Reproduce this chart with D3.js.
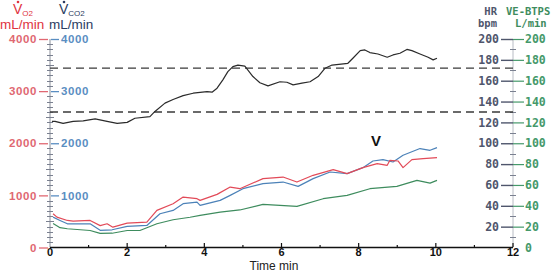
<!DOCTYPE html>
<meta charset='utf-8'>
<title>CPET trend</title>
<style>
body {
  margin: 0;
  background-color: #fff;
}
text {
  font-family: "Liberation Sans", Arial, sans-serif;
}
.mono {
  font-family: "DejaVu Sans Mono", monospace;
  font-weight: bold;
}
</style>
<svg width="556" height="272"></svg>
<script src="https://d3js.org/d3.v7.min.js"></script>
<script>

// time in minutes for each trace
var hrTime = [0.05, 0.13, 0.34, 0.6, 0.86, 1.17, 1.48, 1.74, 2.0, 2.2, 2.59, 2.72, 2.98, 3.19, 3.45, 3.71, 4.07, 4.2, 4.33, 4.48, 4.61, 4.74, 4.87, 5.05, 5.26, 5.44, 5.65, 5.96, 6.14, 6.3, 6.53, 6.74, 6.95, 7.13, 7.31, 7.72, 7.85, 8.04, 8.16, 8.29, 8.5, 8.74, 8.89, 9.07, 9.25, 9.38, 9.59, 9.8, 9.93, 10.03];
var hr = [121, 121, 119, 121, 121.5, 123.4, 121, 119, 120, 124, 125.6, 130.5, 138.5, 142, 145.7, 148, 149.6, 149, 152.8, 160.8, 168.7, 173.5, 175, 174, 164, 158, 155, 159, 158.5, 156, 157.6, 159, 164, 172, 175, 176.7, 181.5, 188.8, 189.5, 187, 185.6, 182.5, 184.7, 186.3, 190, 188.8, 185.6, 182.5, 180, 181.5];

var vo2Time = [0.08, 0.18, 0.45, 0.6, 1.04, 1.3, 1.48, 1.63, 2.0, 2.51, 2.77, 3.19, 3.45, 3.81, 3.89, 4.33, 4.67, 4.92, 5.52, 6.04, 6.4, 6.82, 7.34, 7.7, 8.11, 8.48, 8.74, 8.81, 9.02, 9.15, 9.38, 9.67, 10.03];
var vo2 = [648, 583, 519, 506, 519, 420, 456, 390, 467, 487, 712, 840, 967, 936, 904, 1019, 1160, 1128, 1321, 1352, 1256, 1385, 1494, 1417, 1532, 1609, 1577, 1673, 1660, 1532, 1686, 1705, 1725];

var vco2Time = [0.08, 0.26, 0.45, 1.04, 1.3, 1.61, 2.0, 2.51, 2.85, 3.19, 3.45, 3.81, 3.89, 4.41, 4.67, 5.0, 5.52, 6.04, 6.43, 6.82, 7.26, 7.7, 8.11, 8.37, 8.63, 8.89, 9.15, 9.59, 9.85, 10.03];
var vco2 = [583, 519, 455, 456, 330, 340, 404, 423, 648, 712, 840, 871, 808, 904, 1000, 1128, 1225, 1256, 1173, 1321, 1448, 1417, 1532, 1660, 1686, 1640, 1769, 1898, 1865, 1917];

var veTime = [0.08, 0.26, 0.45, 1.04, 1.3, 1.61, 2.0, 2.33, 2.77, 3.19, 3.63, 3.89, 4.41, 4.92, 5.52, 6.4, 7.08, 7.7, 8.29, 8.99, 9.51, 9.85, 10.03];
var ve = [23, 19, 18, 16.3, 13.5, 13.7, 16.3, 16.3, 22.8, 26.6, 29, 30.8, 34, 36, 41.3, 39.4, 46.8, 50, 56.4, 58.7, 64.4, 61.8, 64.4];

// HR target band (dashed lines)
var hrLimits = [130, 172];

var xTicks = [0, 2, 4, 6, 8, 10, 12];
var vo2Ticks = [0, 1000, 2000, 3000, 4000];
var vco2Ticks = [1000, 2000, 3000, 4000];
var hrTicks = [20, 40, 60, 80, 100, 120, 140, 160, 180, 200];
var veTicks = [0, 20, 40, 60, 80, 100, 120, 140, 160, 180, 200];
var markerTime = 8.45;

var svg = d3.select("svg");

var x = d3.scaleLinear().domain([0, 12]).range([50, 513]);
var yL = d3.scaleLinear().domain([0, 4000]).range([247.5, 39]);
var yR = d3.scaleLinear().domain([0, 200]).range([247.5, 39]);

var red = "#e24a58", redText = "#e06872", blue = "#4c82b8", blueText = "#5a8ec2",
    navy = "#2c3d62", green = "#3e8c5e", greenText = "#45996a", slate = "#4f566c";

// left axis: vertical line and minor ticks every 100
svg.append("line")
    .attr("x1", 50).attr("x2", 50)
    .attr("y1", yL(4000)).attr("y2", yL(0))
    .attr("stroke", "#8a8f9a").attr("stroke-width", 1);

svg.selectAll("line.lminor")
    .data(d3.range(100, 4000, 100).filter(function(d) { return d % 1000; }))
  .enter().append("line")
    .attr("class", "lminor")
    .attr("x1", function(d) { return d % 500 ? 47 : 46; })
    .attr("x2", function(d) { return d % 500 ? 53 : 54; })
    .attr("y1", function(d) { return Math.round(yL(d)) + 0.5; })
    .attr("y2", function(d) { return Math.round(yL(d)) + 0.5; })
    .attr("stroke", "#7a8090").attr("stroke-width", 1);

// VO2 labels (left, red)
var gl = svg.append("g").attr("transform", "translate(48,0)")
    .call(d3.axisLeft(yL).tickValues(vo2Ticks).tickSize(9).tickPadding(2).tickFormat(d3.format("d")));
gl.select(".domain").remove();
gl.selectAll("line").attr("stroke", redText).attr("stroke-width", 1.3);
gl.selectAll("text").attr("fill", redText).attr("font-size", 11.5).attr("font-weight", "bold")
    .attr("font-family", "Liberation Sans, Arial, sans-serif").attr("letter-spacing", 0.6);

// VCO2 labels (left, blue)
var gb = svg.append("g").attr("transform", "translate(51,0)")
    .call(d3.axisRight(yL).tickValues(vco2Ticks).tickSize(8).tickPadding(2).tickFormat(d3.format("d")));
gb.select(".domain").remove();
gb.selectAll("line").attr("stroke", blueText).attr("stroke-width", 1.3);
gb.selectAll("text").attr("fill", blueText).attr("font-size", 11.5).attr("font-weight", "bold")
    .attr("font-family", "Liberation Sans, Arial, sans-serif").attr("letter-spacing", 0.6);

// right axis
svg.append("line")
    .attr("x1", 513).attr("x2", 513)
    .attr("y1", yR(200)).attr("y2", yR(0))
    .attr("stroke", "#b8bcc4").attr("stroke-width", 1);

svg.selectAll("line.rminor")
    .data(d3.range(10, 200, 20))
  .enter().append("line")
    .attr("class", "rminor")
    .attr("x1", 510).attr("x2", 516)
    .attr("y1", function(d) { return Math.round(yR(d)) + 0.5; })
    .attr("y2", function(d) { return Math.round(yR(d)) + 0.5; })
    .attr("stroke", "#7a8090").attr("stroke-width", 1);

var gh = svg.append("g").attr("transform", "translate(513,0)")
    .call(d3.axisLeft(yR).tickValues(hrTicks).tickSize(12).tickPadding(2));
gh.select(".domain").remove();
gh.selectAll("line").attr("stroke", slate).attr("stroke-width", 1.4);
gh.selectAll("text").attr("class", "mono").attr("fill", slate).attr("font-size", 11.5);

var gv = svg.append("g").attr("transform", "translate(513,0)")
    .call(d3.axisRight(yR).tickValues(veTicks).tickSize(11).tickPadding(1));
gv.select(".domain").remove();
gv.selectAll("line").attr("stroke", greenText).attr("stroke-width", 1.2)
    .attr("stroke-opacity", function(d) { return d === 0 ? 0 : 1; });
gv.selectAll("text").attr("class", "mono").attr("fill", greenText).attr("font-size", 11.5);

// x axis
svg.append("line")
    .attr("x1", x(0)).attr("x2", x(12))
    .attr("y1", 247.5).attr("y2", 247.5)
    .attr("stroke", "#111").attr("stroke-width", 1.6);

svg.selectAll("line.xtick")
    .data(d3.range(1, 13))
  .enter().append("line")
    .attr("class", "xtick")
    .attr("x1", function(d) { return x(d); })
    .attr("x2", function(d) { return x(d); })
    .attr("y1", 247)
    .attr("y2", function(d) { return d % 2 ? 245 : 243; })
    .attr("stroke", "#111").attr("stroke-width", 1.2);

svg.selectAll("text.xlabel")
    .data(xTicks)
  .enter().append("text")
    .attr("class", "xlabel")
    .attr("x", function(d) { return x(d); })
    .attr("y", 256)
    .attr("text-anchor", "middle")
    .attr("font-size", 11)
    .attr("font-weight", "bold")
    .attr("fill", "#111")
    .text(function(d) { return d; });

svg.append("text")
    .attr("x", 274).attr("y", 269.5)
    .attr("text-anchor", "middle")
    .attr("font-size", 12)
    .attr("fill", "#222")
    .text("Time min");

// dashed HR limits
svg.selectAll("line.limit")
    .data(hrLimits)
  .enter().append("line")
    .attr("class", "limit")
    .attr("x1", 50).attr("x2", 513)
    .attr("y1", function(d) { return yR(d); })
    .attr("y2", function(d) { return yR(d); })
    .attr("stroke", "#3a3a3a").attr("stroke-width", 1.3)
    .attr("stroke-dasharray", "8,5");

// traces
function trace(times, values, y, color) {
  var pts = times.map(function(t, i) { return [t, values[i]]; });
  svg.append("path")
      .datum(pts)
      .attr("fill", "none")
      .attr("stroke", color)
      .attr("stroke-width", 1.2)
      .attr("stroke-linejoin", "round")
      .attr("d", d3.line().x(function(d) { return x(d[0]); }).y(function(d) { return y(d[1]); }));
}
trace(veTime, ve, yR, green);
trace(vco2Time, vco2, yL, blue);
trace(vo2Time, vo2, yL, red);
trace(hrTime, hr, yR, "#2b2b2b");

// threshold marker
svg.append("text")
    .attr("x", x(markerTime)).attr("y", 146)
    .attr("text-anchor", "middle")
    .attr("font-size", 15)
    .attr("font-weight", "bold")
    .attr("font-family", "Liberation Sans Narrow, Liberation Sans, sans-serif")
    .attr("fill", "#111")
    .text("V");

// headers, left
function vdot(x0, label, sub, color) {
  var t = svg.append("text").attr("x", x0).attr("y", 14).attr("fill", color).attr("font-size", 14);
  t.append("tspan").text(label);
  t.append("tspan").attr("dy", 2).attr("font-size", 8).text(sub);
  svg.append("circle").attr("cx", x0 + 5).attr("cy", 2).attr("r", 1.3).attr("fill", color);
}
vdot(13, "V", "O2", "#e0343f");
vdot(59, "V", "CO2", navy);

svg.append("text").attr("x", 0).attr("y", 29).attr("font-size", 13.5).attr("fill", "#e0343f").text("mL/min");
svg.append("text").attr("x", 49).attr("y", 29).attr("font-size", 13.5).attr("fill", navy).text("mL/min");

// headers, right
svg.append("text").attr("class", "mono").attr("x", 497).attr("y", 15).attr("text-anchor", "end")
    .attr("font-size", 10.5).attr("fill", slate).text("HR");
svg.append("text").attr("class", "mono").attr("x", 497).attr("y", 27).attr("text-anchor", "end")
    .attr("font-size", 10.5).attr("fill", slate).text("bpm");
svg.append("text").attr("class", "mono").attr("x", 506).attr("y", 15)
    .attr("font-size", 10.5).attr("fill", green).text("VE-BTPS");
svg.append("text").attr("class", "mono").attr("x", 515).attr("y", 27)
    .attr("font-size", 10.5).attr("fill", green).text("L/min");

</script>
